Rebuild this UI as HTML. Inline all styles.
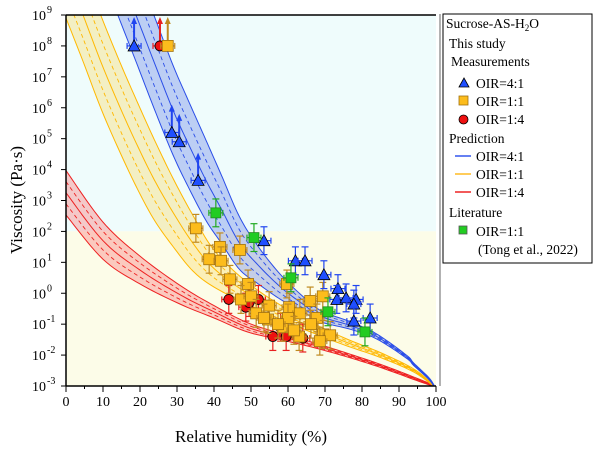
<!DOCTYPE html>
<html><head><meta charset="utf-8">
<style>
body{margin:0;background:#fff;}
svg{display:block;font-family:"Liberation Serif",serif;}
</style></head>
<body>
<svg id="chart" width="600" height="452" viewBox="0 0 600 452">
<defs><clipPath id="clip"><rect x="66" y="15" width="370" height="371"/></clipPath></defs>
<rect x="66" y="15" width="370" height="216.3" fill="#effcfc"/>
<rect x="66" y="231.3" width="370" height="154.7" fill="#fcfce8"/>
<g id="bands" clip-path="url(#clip)"></g>
<g id="points"></g>
<g id="axes"></g>
<text x="251" y="442" font-size="17" text-anchor="middle">Relative humidity (%)</text>
<text transform="translate(22,200) rotate(-90)" font-size="17" text-anchor="middle">Viscosity (Pa·s)</text>
<g font-size="13.5">
<rect x="443" y="14" width="149" height="249" fill="#fff" stroke="#000" stroke-width="1"/>
<line x1="440" y1="14" x2="440" y2="386" stroke="#666" stroke-width="1"/>
<text x="446" y="28">Sucrose-AS-H<tspan font-size="9" dy="3">2</tspan><tspan dy="-3">O</tspan></text>
<text x="449" y="48">This study</text>
<text x="451" y="66">Measurements</text>
<polygon points="459,87 464,78 469,87" fill="#1f4fff" stroke="#000" stroke-width="0.8"/>
<text x="476" y="88">OIR=4:1</text>
<rect x="459" y="96" width="9" height="9" fill="#fcbc1c" stroke="#a07010" stroke-width="0.8"/>
<text x="476" y="106">OIR=1:1</text>
<circle cx="463.5" cy="119.5" r="4.5" fill="#ee1010" stroke="#000" stroke-width="0.8"/>
<text x="476" y="124">OIR=1:4</text>
<text x="449" y="143">Prediction</text>
<line x1="455" y1="156" x2="471" y2="156" stroke="#3355ee" stroke-width="1.5"/><text x="476" y="161">OIR=4:1</text>
<line x1="455" y1="174" x2="471" y2="174" stroke="#ffbb22" stroke-width="1.5"/><text x="476" y="179">OIR=1:1</text>
<line x1="455" y1="192" x2="471" y2="192" stroke="#ee2222" stroke-width="1.5"/><text x="476" y="197">OIR=1:4</text>
<text x="449" y="217">Literature</text>
<rect x="459" y="226" width="8" height="8" fill="#22cc22" stroke="#555" stroke-width="0.8"/>
<text x="476" y="236">OIR=1:1</text>
<text x="478" y="254">(Tong et al., 2022)</text>
</g>
</svg>
<script>
// prediction curves: RH, log10 viscosity center, half-width (decades)
const blueRH=[14,18.9,23.9,28.9,33,37.8,42,46.9,52,58,64,69,77,84,92,94,98,99.5];
const blueLog=[10.5,9,7.45,5.93,4.85,3.66,2.72,1.62,0.9,0.2,-0.35,-0.75,-1.05,-1.4,-2.05,-2.3,-2.75,-3];
const blueHW=[1.5,1.5,1.5,1.45,1.4,1.3,1.1,0.85,0.6,0.4,0.25,0.18,0.12,0.08,0.05,0.04,0.03,0.02];
const yelRH=[0,4.6,9.7,14.9,19.4,23.9,29,34.3,40,49,61,74,85,94,99.5];
const yelLog=[10.4,9,7.4,5.93,4.75,3.66,2.6,1.62,0.8,0.0,-0.8,-1.5,-2.0,-2.5,-3];
const yelHW=[1.5,1.5,1.5,1.45,1.4,1.3,1.1,0.9,0.6,0.35,0.2,0.12,0.08,0.05,0.02];
const redRH=[0,10,20,31,40,49,58,67,76,85,94,99.5];
const redLog=[3.25,1.7,0.75,-0.06,-0.6,-1.1,-1.4,-1.68,-2.0,-2.35,-2.75,-3];
const redHW=[0.72,0.6,0.45,0.3,0.2,0.15,0.1,0.08,0.06,0.05,0.04,0.02];
// measurements [RH, log10 eta]
const blueRHpts=[18.4,28.6,30.6,35.7,53.5,62,64.6,69.7,73.5,73.2,75.7,78.4,77.8,77.8,82.2];
const blueLogPts=[8,5.2,4.9,3.65,1.7,1.05,1.05,0.6,0.15,-0.2,-0.15,-0.2,-0.35,-0.9,-0.8];
const blueLowerBound=[1,1,1,1,0,0,0,0,0,0,0,0,0,0,0];
const yelRHpts=[27.5,35.1,41.6,47,38.7,41.9,44.3,49.2,47.3,50,51.4,54.6,54.9,59.7,60.3,63.2,66,69.4,67.8,66.2,58.6,60,63,69.5,71.4,68.6,61.6,53.5,57.3];
const yelLogPts=[8,2.1,1.5,1.4,1.1,1.05,0.45,0.3,-0.2,-0.1,-0.65,-0.85,-0.4,0.3,-0.45,-0.65,-0.25,-0.1,-0.8,-1.0,-1.1,-0.8,-1.4,-1.33,-1.36,-1.55,-1.2,-0.8,-1.0];
const yelLowerBound=[1,0,0,0,0,0,0,0,0,0,0,0,0,0,0,0,0,0,0,0,0,0,0,0,0,0,0,0,0];
const redRHpts=[25.4,44,48.6,52,49.5,55.9,58,59.5,64];
const redLogPts=[8,-0.2,-0.45,-0.2,-0.3,-1.4,-1.1,-1.4,-1.45];
const redLowerBound=[1,0,0,0,0,0,0,0,0];
const litRH=[40.5,50.8,60.8,70.8,80.8];
const litLog=[2.6,1.8,0.5,-0.6,-1.25];
const xTicks=[0,10,20,30,40,50,60,70,80,90,100];
const yTicks=[-3,-2,-1,0,1,2,3,4,5,6,7,8,9];

const X0=66,X1=436,Y0=15,Y1=386;
const xs=v=>X0+(v/100)*(X1-X0);
const ys=v=>Y0+(9-v)*(Y1-Y0)/12;
const NS='http://www.w3.org/2000/svg';
function mk(t,a,p){const e=document.createElementNS(NS,t);for(const k in a)e.setAttribute(k,a[k]);p.appendChild(e);return e;}

// Catmull-Rom smoothing in pixel space
function smooth(P){
  const out=[];
  for(let i=0;i<P.length-1;i++){
    const p0=P[Math.max(i-1,0)],p1=P[i],p2=P[i+1],p3=P[Math.min(i+2,P.length-1)];
    for(let k=0;k<10;k++){const t=k/10,t2=t*t,t3=t2*t;
      const f=(a,b,c,d)=>0.5*((2*b)+(-a+c)*t+(2*a-5*b+4*c-d)*t2+(-a+3*b-3*c+d)*t3);
      out.push([f(p0[0],p1[0],p2[0],p3[0]),f(p0[1],p1[1],p2[1],p3[1])]);}
  }
  out.push(P[P.length-1]);return out;
}
const bands=document.getElementById('bands');
function band(rh,lg,hw,fill,stroke,name){
  const cur=off=>smooth(rh.map((r,i)=>[xs(r),ys(lg[i]+off*hw[i])]));
  const up=cur(1),lo=cur(-1).reverse();
  const poly=mk('polygon',{points:up.concat(lo).map(p=>p.join(',')).join(' '),fill:fill,stroke:'none'},bands);
  
  
  const line=(off,dash,w)=>{
    const l=mk('polyline',{points:cur(off).map(p=>p.join(',')).join(' '),fill:'none',stroke:stroke,'stroke-width':w},bands);
    if(dash)l.setAttribute('stroke-dasharray','4,3');
    
    
  };
  line(1,false,1);line(-1,false,1);line(0,false,1);line(0.5,true,0.9);line(-0.5,true,0.9);
}
band(redRH,redLog,redHW,'rgba(250,140,140,0.45)','#ee2222','prediction-1-4');
band(yelRH,yelLog,yelHW,'rgba(250,220,110,0.4)','#ffb800','prediction-1-1');
band(blueRH,blueLog,blueHW,'rgba(70,100,225,0.3)','#2a4de8','prediction-4-1');

const pts=document.getElementById('points');
function errbar(x,y,col,lb){
  const px=xs(x),py=ys(y),dx=7;
  mk('line',{x1:px-dx,y1:py,x2:px+dx,y2:py,stroke:col,'stroke-width':1.2},pts);
  mk('line',{x1:px-dx,y1:py-3,x2:px-dx,y2:py+3,stroke:col,'stroke-width':1.2},pts);
  mk('line',{x1:px+dx,y1:py-3,x2:px+dx,y2:py+3,stroke:col,'stroke-width':1.2},pts);
  if(lb){
    const top=Math.max(ys(y+(y>7?1:0.9)),Y0+2);
    mk('line',{x1:px,y1:py,x2:px,y2:top+6,stroke:col,'stroke-width':2},pts);
    mk('polygon',{points:`${px-3},${top+7} ${px+3},${top+7} ${px},${top}`,fill:col},pts);
  } else {
    const t=ys(y+0.45),b=ys(y-0.45);
    mk('line',{x1:px,y1:t,x2:px,y2:b,stroke:col,'stroke-width':1.2},pts);
    mk('line',{x1:px-3.5,y1:t,x2:px+3.5,y2:t,stroke:col,'stroke-width':1.2},pts);
    mk('line',{x1:px-3.5,y1:b,x2:px+3.5,y2:b,stroke:col,'stroke-width':1.2},pts);
  }
}
redRHpts.forEach((r,i)=>{errbar(r,redLogPts[i],'#e82020',redLowerBound[i]);
  const c=mk('circle',{cx:xs(r),cy:ys(redLogPts[i]),r:5,fill:'#ee1010',stroke:'#000','stroke-width':0.8},pts);
  
  });
yelRHpts.forEach((r,i)=>{errbar(r,yelLogPts[i],'#c08a20',yelLowerBound[i]);
  const c=mk('rect',{x:xs(r)-5.5,y:ys(yelLogPts[i])-5.5,width:11,height:11,fill:'#fcbc1c',stroke:'#a07010','stroke-width':0.8},pts);
  
  });
blueRHpts.forEach((r,i)=>{errbar(r,blueLogPts[i],'#2045f0',blueLowerBound[i]);
  const px=xs(r),py=ys(blueLogPts[i]);
  const c=mk('polygon',{points:`${px-6},${py+5} ${px},${py-6} ${px+6},${py+5}`,fill:'#1f4fff',stroke:'#000','stroke-width':0.8},pts);
  
  });
litRH.forEach((r,i)=>{errbar(r,litLog[i],'#22aa22',0);
  const c=mk('rect',{x:xs(r)-5,y:ys(litLog[i])-5,width:10,height:10,fill:'#22cc22',stroke:'#228822','stroke-width':0.8},pts);
  
  });

const ax=document.getElementById('axes');
mk('line',{x1:X0,y1:Y0,x2:X0,y2:Y1,stroke:'#000','stroke-width':1.5},ax);
mk('line',{x1:X0,y1:Y1,x2:X1,y2:Y1,stroke:'#000','stroke-width':1.5},ax);
mk('line',{x1:X0,y1:Y0,x2:X1,y2:Y0,stroke:'#000','stroke-width':1.5},ax);
xTicks.forEach(v=>{const x=xs(v);
  mk('line',{x1:x,y1:Y1,x2:x,y2:Y1+6,stroke:'#000','stroke-width':1},ax);
  if(v<100)mk('line',{x1:xs(v+5),y1:Y1,x2:xs(v+5),y2:Y1+3,stroke:'#000','stroke-width':1},ax);
  const t=mk('text',{x:x,y:Y1+20,'font-size':14,'text-anchor':'middle'},ax);t.textContent=v;
  
  });
yTicks.forEach(v=>{const y=ys(v);
  mk('line',{x1:X0-5,y1:y,x2:X0,y2:y,stroke:'#000','stroke-width':1},ax);
  const t=mk('text',{x:X0-20,y:y+5,'font-size':14,'text-anchor':'end'},ax);t.textContent='10';
  
  
  const s=mk('text',{x:X0-19,y:y-2,'font-size':10,'text-anchor':'start'},ax);s.textContent=v<0?'-'+(-v):String(v);
  
  });
</script>
</body></html>
